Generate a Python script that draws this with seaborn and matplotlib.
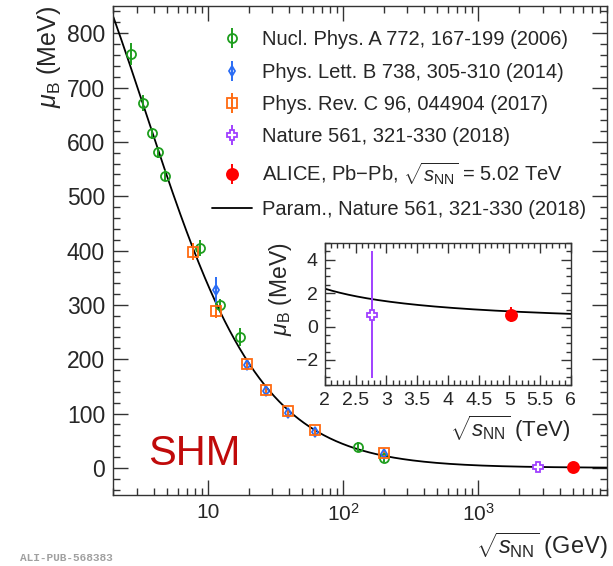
import numpy as np
import pandas as pd
import matplotlib
matplotlib.use("Agg")
import matplotlib.pyplot as plt
import seaborn as sns
from matplotlib.ticker import LogLocator, NullFormatter, MultipleLocator

# Nucl. Phys. A 772, 167-199 (2006)
npa_x = [2.70, 3.32, 3.84, 4.30, 4.85, 8.76, 12.3, 17.3, 130, 200]
npa_y = [761, 671, 616, 581, 538, 404, 299, 241, 39, 19]
npa_err = [20, 15, 10, 10, 10, 15, 12, 17, 9, 8]

# Phys. Lett. B 738, 305-310 (2014)
plb_x = [11.5, 19.6, 27, 39, 62.4, 200]
plb_y = [327, 190, 141, 101, 66, 25]
plb_err = [24, 8, 7, 7, 6, 6]

# Phys. Rev. C 96, 044904 (2017)
prc_x = [7.7, 11.5, 19.6, 27, 39, 62.4, 200]
prc_y = [398, 288, 191, 144, 104, 69, 27]
prc_err = [16, 12, 9, 7, 7, 6, 6]

# Nature 561, 321-330 (2018)
nat_x = [2760]
nat_y = [0.7]
nat_err = [3.8]

# ALICE Pb-Pb 5.02 TeV
alice_x = [5020]
alice_y = [0.71]
alice_err = [0.45]

# parametrisation mu_B = a / (1 + b*sqrt(s)), Nature 561 (2018)
param_a = 1307.5
param_b = 0.288

sns.set_theme(style="ticks")
plt.rcParams["font.family"] = ["Liberation Sans", "DejaVu Sans"]
plt.rcParams["mathtext.fontset"] = "custom"
plt.rcParams["mathtext.rm"] = "Liberation Sans"
plt.rcParams["mathtext.it"] = "Liberation Sans:italic"
plt.rcParams["mathtext.bf"] = "Liberation Sans:bold"
plt.rcParams["axes.edgecolor"] = "#333333"
plt.rcParams["axes.linewidth"] = 1.0

green = "#1e9e1e"
blue = "#2a6cf5"
orange = "#ff6a10"
purple = "#a040ff"
red = "#ff0000"

fig = plt.figure(figsize=(6.13, 5.66), dpi=100)
ax = fig.add_axes([0.185, 0.1254, 0.8054, 0.864])

# curve
xs = np.logspace(np.log10(2.0), np.log10(9000), 400)
curve = pd.DataFrame({"x": xs, "y": param_a / (1 + param_b * xs)})

series = [
    (npa_x, npa_y, npa_err, green, "o", 6.5, "none", "Nucl. Phys. A 772, 167-199 (2006)"),
    (plb_x, plb_y, plb_err, blue, "d", 5.5, "none", "Phys. Lett. B 738, 305-310 (2014)"),
    (prc_x, prc_y, prc_err, orange, "s", 7, "none", "Phys. Rev. C 96, 044904 (2017)"),
    (nat_x, nat_y, nat_err, purple, "P", 7.5, "white", "Nature 561, 321-330 (2018)"),
    (alice_x, alice_y, alice_err, red, "o", 8, red,
     r"ALICE, Pb$-$Pb, $\sqrt{s_{\rm NN}}$ = 5.02 TeV"),
]

handles = []
for x, y, e, c, m, ms, fc, lab in series:
    h = ax.errorbar(x, y, yerr=e, fmt=m, ms=ms, mfc=fc, mec=c, mew=1.3,
                    color=c, elinewidth=1.4, capsize=0, label=lab, zorder=3)
    handles.append(h)

sns.lineplot(data=curve, x="x", y="y", ax=ax, color="black", lw=1.3,
             label="Param., Nature 561, 321-330 (2018)", zorder=2, legend=False)
handles.append(ax.lines[-1])

ax.set_xscale("log")
ax.set_xlim(2.0, 9000)
ax.set_ylim(-50, 850)
ax.set_xticks([10, 100, 1000], labels=["10", "$10^2$", "$10^3$"])
ax.xaxis.set_minor_locator(LogLocator(base=10, subs=np.arange(2, 10)))
ax.xaxis.set_minor_formatter(NullFormatter())
ax.yaxis.set_major_locator(MultipleLocator(100))
ax.yaxis.set_minor_locator(MultipleLocator(20))
ax.tick_params(which="both", direction="in", top=True, right=True,
               color="#333333", pad=6)
ax.tick_params(axis="y", labelsize=16.5)
ax.tick_params(axis="x", labelsize=15)
ax.tick_params(which="major", length=10.5, width=1.0)
ax.tick_params(which="minor", length=5.2, width=1.0)
ax.set_xlabel(r"$\sqrt{s_{\rm NN}}$ (GeV)", fontsize=17, loc="right", labelpad=4)
ax.set_ylabel(r"$\mu_{\rm B}$ (MeV)", fontsize=18, loc="top", labelpad=3)

ax.legend(handles=handles, labels=[s[-1] for s in series] + ["Param., Nature 561, 321-330 (2018)"],
          loc="upper left", bbox_to_anchor=(0.200, 0.950), frameon=False,
          fontsize=14.5, borderpad=0, borderaxespad=0, handlelength=2.0,
          handletextpad=0.5, labelspacing=0.66)

ax.text(0.0703, 0.0613, "SHM", transform=ax.transAxes, fontsize=30,
        color="#c00a0a", ha="left", va="baseline")

# inset
axi = fig.add_axes([0.530, 0.3198, 0.4013, 0.2509])
xs_i = np.linspace(2.0, 6.0, 200)
curve_i = pd.DataFrame({"x": xs_i, "y": param_a / (1 + param_b * xs_i * 1000)})
sns.lineplot(data=curve_i, x="x", y="y", ax=axi, color="black", lw=1.3, legend=False)
for x, y, e, c, m, ms, fc, lab in series[3:]:
    axi.errorbar(np.array(x) / 1000, y, yerr=e, fmt=m, ms=ms, mfc=fc, mec=c,
                 mew=1.3, color=c, elinewidth=1.4, capsize=0, zorder=3)
axi.set_xlim(2, 6)
axi.set_ylim(-3.5, 5)
axi.set_xticks(np.arange(2, 6.01, 0.5), labels=["2", "2.5", "3", "3.5", "4", "4.5", "5", "5.5", "6"])
axi.xaxis.set_minor_locator(MultipleLocator(0.1))
axi.yaxis.set_major_locator(MultipleLocator(2))
axi.yaxis.set_minor_locator(MultipleLocator(0.5))
axi.tick_params(which="both", direction="in", top=True, right=True,
                labelsize=14, color="#333333", pad=5)
axi.tick_params(which="major", length=7, width=1.0)
axi.tick_params(which="minor", length=3.5, width=1.0)
axi.set_xlabel(r"$\sqrt{s_{\rm NN}}$ (TeV)", fontsize=16, loc="right", labelpad=3)
axi.set_ylabel(r"$\mu_{\rm B}$ (MeV)", fontsize=16.5, loc="top", labelpad=1)

fig.text(20 / 613, 1 - 561 / 566, "ALI-PUB-568383", fontsize=8, color="#a0a0a0",
         family="Liberation Mono", weight="bold")

fig.savefig("out.png", dpi=100)
